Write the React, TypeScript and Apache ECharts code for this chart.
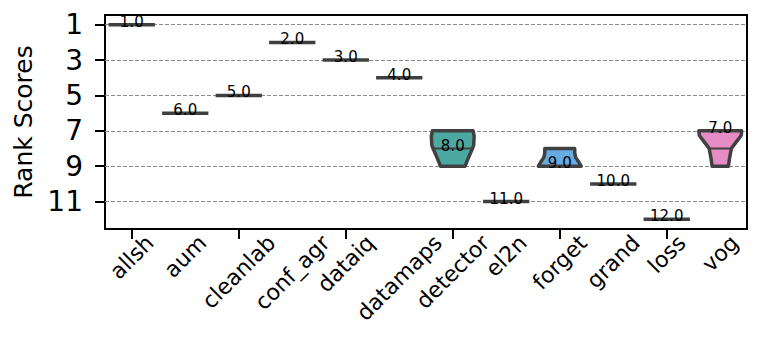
import React, { useEffect, useRef } from 'react';
import * as echarts from 'echarts';

const categories = ['allsh', 'aum', 'cleanlab', 'conf_agr', 'dataiq', 'datamaps', 'detector', 'el2n', 'forget', 'grand', 'loss', 'vog'];
const medianValues = [1, 6, 5, 2, 3, 4, 8, 11, 9, 10, 12, 7];
// violin density profiles: [rank, relative half-width]; a single point is drawn as a flat line
const violinProfiles: number[][][] = [
  [[1, 1]],
  [[6, 1]],
  [[5, 1]],
  [[2, 1]],
  [[3, 1]],
  [[4, 1]],
  [[7, 0.95], [7.3, 1], [7.8, 0.98], [8, 0.92], [8.5, 0.74], [9, 0.57]],
  [[11, 1]],
  [[8, 0.7], [8.25, 0.7], [8.5, 0.74], [8.75, 0.88], [9, 1]],
  [[10, 1]],
  [[12, 1]],
  [[7, 1], [7.25, 0.98], [7.5, 0.83], [7.75, 0.67], [8, 0.52], [8.5, 0.44], [9, 0.38]],
];
const quartileLines: number[][] = [[], [], [], [], [], [], [8], [], [9], [], [], [8]];
const fillColors = ['#444', '#444', '#444', '#444', '#444', '#444', '#4ca9a1', '#444', '#68aae2', '#444', '#444', '#e68cc5'];
const yTickValues = [1, 3, 5, 7, 9, 11];

const FONT = 'DejaVu Sans';
const OUTLINE = '#404040';

function widthAt(prof: number[][], v: number): number {
  for (let k = 0; k < prof.length - 1; k++) {
    const [v0, d0] = prof[k];
    const [v1, d1] = prof[k + 1];
    if (v >= v0 && v <= v1) return d0 + ((v - v0) / (v1 - v0)) * (d1 - d0);
  }
  return v <= prof[0][0] ? prof[0][1] : prof[prof.length - 1][1];
}

export default function App() {
  const ref = useRef<HTMLDivElement>(null);
  useEffect(() => {
    document.body.style.margin = '0';
    const chart = echarts.init(ref.current!, null, { renderer: 'svg' });
    const option: any = {
      animation: false,
      grid: { left: 105, right: 14, top: 15, bottom: 112, show: true, borderColor: '#000', borderWidth: 2, backgroundColor: 'transparent' },
      xAxis: {
        type: 'category',
        data: categories,
        boundaryGap: true,
        axisLine: { show: true, lineStyle: { color: '#000', width: 2 } },
        axisTick: { show: true, alignWithLabel: true, length: 10, lineStyle: { color: '#000', width: 2 } },
        axisLabel: { show: false },
        splitLine: { show: false },
      },
      yAxis: {
        type: 'value',
        inverse: true,
        min: 0.45,
        max: 12.55,
        splitLine: { show: false },
        axisLine: { show: true, lineStyle: { color: '#000', width: 2 } },
        axisTick: { show: true, length: 10, lineStyle: { color: '#000', width: 2 }, customValues: yTickValues },
        axisLabel: { customValues: yTickValues, fontSize: 28, fontFamily: FONT, color: '#000', margin: 22 },
        name: 'Rank Scores',
        nameLocation: 'middle',
        nameGap: 62,
        nameTextStyle: { fontSize: 25, fontFamily: FONT, color: '#000' },
      },
      series: [
        {
          type: 'line',
          data: [],
          z: 1,
          silent: true,
          markLine: {
            z: 1,
            silent: true,
            symbol: 'none',
            label: { show: false },
            lineStyle: { type: [4, 2], color: '#8c8c8c', width: 1 },
            data: yTickValues.map((v) => ({ yAxis: v })),
          },
        },
        {
          type: 'custom',
          z: 10,
          data: categories.map((c, i) => [i, medianValues[i]]),
          renderItem: (params: any, api: any) => {
            const i = api.value(0);
            const prof = violinProfiles[i];
            const band = api.size([1, 0])[0];
            const maxHalf = band * 0.4;
            const cx = api.coord([i, prof[0][0]])[0];
            const children: any[] = [];
            if (prof.length === 1) {
              const y = api.coord([i, prof[0][0]])[1];
              children.push({
                type: 'line',
                shape: { x1: cx - maxHalf, y1: y, x2: cx + maxHalf, y2: y },
                style: { stroke: OUTLINE, lineWidth: 3.5, lineCap: 'square' },
              });
            } else {
              const left = prof.map(([v, d]) => [cx - d * maxHalf, api.coord([i, v])[1]]);
              const right = prof
                .slice()
                .reverse()
                .map(([v, d]) => [cx + d * maxHalf, api.coord([i, v])[1]]);
              children.push({
                type: 'polygon',
                shape: { points: [...left, ...right] },
                style: { fill: fillColors[i], stroke: OUTLINE, lineWidth: 3.5, lineJoin: 'round' },
              });
              quartileLines[i].forEach((q) => {
                const d = widthAt(prof, q) * maxHalf;
                const y = api.coord([i, q])[1];
                children.push({
                  type: 'line',
                  shape: { x1: cx - d, y1: y, x2: cx + d, y2: y },
                  style: { stroke: OUTLINE, lineWidth: 2 },
                });
              });
            }
            children.push({
              type: 'text',
              x: cx,
              y: api.coord([i, medianValues[i]])[1] - 3,
              style: {
                text: medianValues[i].toFixed(1),
                fontSize: 15,
                fontFamily: FONT,
                fill: '#000',
                align: 'center',
                verticalAlign: 'middle',
              },
            });
            return { type: 'group', children };
          },
        },
      ],
    };
    chart.setOption(option);

    const canvas = document.createElement('canvas');
    const ctx = canvas.getContext('2d')!;
    const xfs = 22;
    ctx.font = `${xfs}px "${FONT}"`;
    const h = xfs * 1.164;
    const topY = 230;
    const labels = categories.map((c, i) => {
      const p = chart.convertToPixel({ gridIndex: 0 }, [i, 1]) as number[];
      const L = ctx.measureText(c).width;
      const half = (L + h) / (2 * Math.SQRT2);
      return {
        type: 'text',
        x: p[0],
        y: topY + half,
        rotation: Math.PI / 4,
        style: { text: c, fontSize: xfs, fontFamily: FONT, fill: '#000', align: 'center', verticalAlign: 'middle' },
      };
    });
    chart.setOption({ graphic: labels });

    return () => chart.dispose();
  }, []);
  return <div ref={ref} style={{ width: 761, height: 341 }} />;
}
